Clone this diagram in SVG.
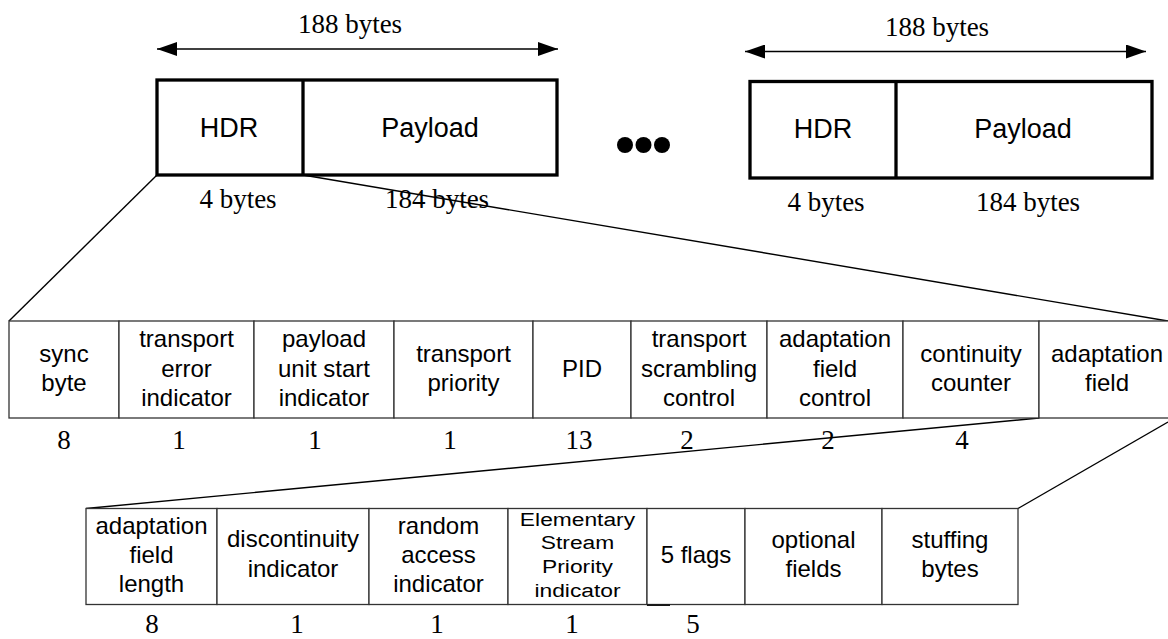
<svg xmlns="http://www.w3.org/2000/svg" width="1168" height="639" viewBox="0 0 1168 639">
  <style>
    .pkt { fill: #fff; stroke: #000; stroke-width: 3.3; }
    .div { stroke: #000; stroke-width: 3.3; }
    .cell { fill: #fff; stroke: #333; stroke-width: 1.3; }
    .ln { stroke: #000; stroke-width: 1.4; fill: none; }
    .sans { font-family: "Liberation Sans", Arial, sans-serif; fill: #000; text-anchor: middle; }
    .serif { font-family: "Liberation Serif", "Times New Roman", serif; fill: #000; text-anchor: middle; }
    .big { font-size: 27px; }
    .f24 { font-size: 24px; }
    .f19 { font-size: 19px; }
    .num { font-size: 27px; }
  </style>
  <defs>
    <marker id="arrow" viewBox="0 0 20 14" refX="20" refY="7" markerWidth="20" markerHeight="14" markerUnits="userSpaceOnUse" orient="auto-start-reverse">
      <path d="M0,0 L20,7 L0,14 Z" fill="#000"/>
    </marker>
  </defs>

  <rect width="1168" height="639" fill="#fff"/>

  <!-- dimension arrows and expansion lines -->
  <g id="connectors">
    <line class="ln" x1="157" y1="49" x2="558" y2="49" marker-start="url(#arrow)" marker-end="url(#arrow)"/>
    <line class="ln" x1="745" y1="51.5" x2="1146" y2="51.5" marker-start="url(#arrow)" marker-end="url(#arrow)"/>
    <line class="ln" x1="157" y1="175" x2="9" y2="321"/>
    <line class="ln" x1="303" y1="175" x2="1168" y2="321"/>
    <line class="ln" x1="1039" y1="418" x2="86" y2="508.5"/>
    <line class="ln" x1="1168" y1="422" x2="1018" y2="508.5"/>
  </g>

  <!-- first transport packet -->
  <g id="packet-1">
    <rect class="pkt" x="157" y="80" width="400" height="95"/>
    <line class="div" x1="303" y1="80" x2="303" y2="175"/>
    <text class="serif big" x="350" y="33">188 bytes</text>
    <text class="sans big" x="229" y="137">HDR</text>
    <text class="sans big" x="430" y="137">Payload</text>
    <text class="serif big" x="238" y="208">4 bytes</text>
    <text class="serif big" x="437" y="208">184 bytes</text>
  </g>

  <!-- ellipsis between packets -->
  <g id="ellipsis" fill="#000">
    <circle cx="625" cy="145" r="8"/>
    <circle cx="643.5" cy="145" r="8"/>
    <circle cx="662" cy="145" r="8"/>
  </g>

  <!-- last transport packet -->
  <g id="packet-n">
    <rect class="pkt" x="750" y="81.5" width="402" height="96.5"/>
    <line class="div" x1="896" y1="81.5" x2="896" y2="178"/>
    <text class="serif big" x="937" y="35.5">188 bytes</text>
    <text class="sans big" x="823" y="138">HDR</text>
    <text class="sans big" x="1023" y="138">Payload</text>
    <text class="serif big" x="826" y="210.5">4 bytes</text>
    <text class="serif big" x="1028" y="210.5">184 bytes</text>
  </g>

  <!-- header fields -->
  <g id="hdr-sync-byte">
    <rect class="cell" x="9" y="321" width="110" height="97"/>
    <text class="sans f24" x="64" y="362">sync</text>
    <text class="sans f24" x="64" y="391">byte</text>
    <text class="serif num" x="64" y="449">8</text>
  </g>
  <g id="hdr-tei">
    <rect class="cell" x="119" y="321" width="135" height="97"/>
    <text class="sans f24" x="186.5" y="347">transport</text>
    <text class="sans f24" x="186.5" y="376.5">error</text>
    <text class="sans f24" x="186.5" y="406">indicator</text>
    <text class="serif num" x="179" y="449">1</text>
  </g>
  <g id="hdr-pusi">
    <rect class="cell" x="254" y="321" width="140" height="97"/>
    <text class="sans f24" x="324" y="347">payload</text>
    <text class="sans f24" x="324" y="376.5">unit start</text>
    <text class="sans f24" x="324" y="406">indicator</text>
    <text class="serif num" x="315" y="449">1</text>
  </g>
  <g id="hdr-priority">
    <rect class="cell" x="394" y="321" width="139" height="97"/>
    <text class="sans f24" x="463.5" y="362">transport</text>
    <text class="sans f24" x="463.5" y="391">priority</text>
    <text class="serif num" x="450" y="449">1</text>
  </g>
  <g id="hdr-pid">
    <rect class="cell" x="533" y="321" width="98" height="97"/>
    <text class="sans f24" x="582" y="377">PID</text>
    <text class="serif num" x="579" y="449">13</text>
  </g>
  <g id="hdr-scrambling">
    <rect class="cell" x="631" y="321" width="136" height="97"/>
    <text class="sans f24" x="699" y="347">transport</text>
    <text class="sans f24" x="699" y="376.5">scrambling</text>
    <text class="sans f24" x="699" y="406">control</text>
    <text class="serif num" x="687" y="449">2</text>
  </g>
  <g id="hdr-afc">
    <rect class="cell" x="767" y="321" width="136" height="97"/>
    <text class="sans f24" x="835" y="347">adaptation</text>
    <text class="sans f24" x="835" y="376.5">field</text>
    <text class="sans f24" x="835" y="406">control</text>
    <text class="serif num" x="828" y="449">2</text>
  </g>
  <g id="hdr-cc">
    <rect class="cell" x="903" y="321" width="136" height="97"/>
    <text class="sans f24" x="971" y="362">continuity</text>
    <text class="sans f24" x="971" y="391">counter</text>
    <text class="serif num" x="962" y="449">4</text>
  </g>
  <g id="hdr-adaptation-field">
    <rect class="cell" x="1039" y="321" width="140" height="97"/>
    <text class="sans f24" x="1107" y="362">adaptation</text>
    <text class="sans f24" x="1107" y="391">field</text>
  </g>

  <!-- adaptation field contents -->
  <g id="af-length">
    <rect class="cell" x="86" y="508.5" width="131" height="96"/>
    <text class="sans f24" x="151.5" y="534">adaptation</text>
    <text class="sans f24" x="151.5" y="563">field</text>
    <text class="sans f24" x="151.5" y="592">length</text>
    <text class="serif num" x="152" y="633">8</text>
  </g>
  <g id="af-discontinuity">
    <rect class="cell" x="217" y="508.5" width="152" height="96"/>
    <text class="sans f24" x="293" y="547">discontinuity</text>
    <text class="sans f24" x="293" y="577">indicator</text>
    <text class="serif num" x="297" y="633">1</text>
  </g>
  <g id="af-random-access">
    <rect class="cell" x="369" y="508.5" width="139" height="96"/>
    <text class="sans f24" x="438.5" y="534">random</text>
    <text class="sans f24" x="438.5" y="563">access</text>
    <text class="sans f24" x="438.5" y="592">indicator</text>
    <text class="serif num" x="437" y="633">1</text>
  </g>
  <g id="af-es-priority">
    <rect class="cell" x="508" y="508.5" width="139" height="96"/>
    <!-- label is stretched horizontally to fill the narrow cell -->
    <g transform="matrix(1.2 0 0 1 -115.5 0)">
      <text class="sans f19" x="577.5" y="526">Elementary</text>
      <text class="sans f19" x="577.5" y="549.5">Stream</text>
      <text class="sans f19" x="577.5" y="573">Priority</text>
      <text class="sans f19" x="577.5" y="597">indicator</text>
    </g>
    <text class="serif num" x="572" y="633">1</text>
  </g>
  <g id="af-flags">
    <rect class="cell" x="647" y="508.5" width="98" height="96"/>
    <line class="ln" x1="647" y1="605.2" x2="670" y2="605.2" stroke-width="1.2"/>
    <text class="sans f24" x="696" y="563">5 flags</text>
    <text class="serif num" x="693" y="633">5</text>
  </g>
  <g id="af-optional">
    <rect class="cell" x="745" y="508.5" width="137" height="96"/>
    <text class="sans f24" x="813.5" y="548">optional</text>
    <text class="sans f24" x="813.5" y="577">fields</text>
  </g>
  <g id="af-stuffing">
    <rect class="cell" x="882" y="508.5" width="136" height="96"/>
    <text class="sans f24" x="950" y="548">stuffing</text>
    <text class="sans f24" x="950" y="577">bytes</text>
  </g>
</svg>
